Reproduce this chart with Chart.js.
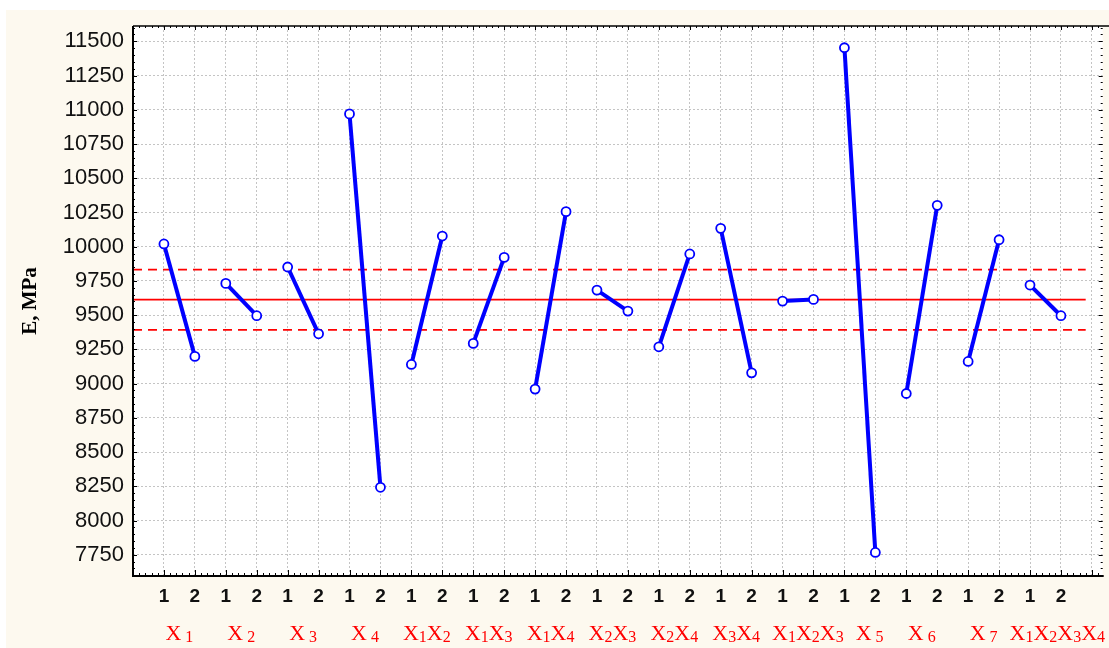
<!DOCTYPE html>
<html>
<head>
<meta charset="utf-8">
<script src="https://cdn.jsdelivr.net/npm/chart.js@4.4.1/dist/chart.umd.min.js"></script>
<style>
html,body{margin:0;padding:0;background:#fff;}
#wrap{width:1109px;height:648px;position:relative;}
</style>
</head>
<body>
<div id="wrap"><canvas id="effectsChart"></canvas></div>
<script>
// factor groups and the two levels of each
const groups = ['X1','X2','X3','X4','X1X2','X1X3','X1X4','X2X3','X2X4','X3X4','X1X2X3','X5','X6','X7','X1X2X3X4'];
const levels = ['1','2'];
// mean E, MPa at level 1 and level 2
const level1 = [10020, 9732, 9852, 10970, 9140, 9294, 8960, 9683, 9269, 10134, 9603, 11453, 8928, 9162, 9720];
const level2 = [9199, 9496, 9364, 8243, 10078, 9922, 10256, 9530, 9947, 9079, 9615, 7767, 10302, 10051, 9496];
// overall mean and confidence band
const meanE = 9613;
const upperE = 9832;
const lowerE = 9393;
const yTicks = [7750,8000,8250,8500,8750,9000,9250,9500,9750,10000,10250,10500,10750,11000,11250,11500];

const BLUE = '#0000ff', RED = '#ff0000', CREAM = '#fdf9ef';
const nPos = groups.length * levels.length;

const lineSets = groups.map((g, i) => ({
  label: g,
  data: [{x: 2*i, y: level1[i]}, {x: 2*i + 1, y: level2[i]}],
  borderColor: BLUE,
  borderWidth: 4,
  pointRadius: 4.5,
  pointBorderWidth: 1.8,
  pointBackgroundColor: '#fff',
  pointBorderColor: BLUE
}));

function hline(v, dash){
  return {
    label: '',
    data: [{x: -1, y: v}, {x: nPos - 0.2, y: v}],
    borderColor: RED, borderWidth: 1.8, borderDash: dash,
    pointRadius: 0
  };
}

// draws "X" with subscript digits; returns right end
function drawGroupLabel(ctx, name, cx, baseY, minLeft){
  const parts = name.match(/X\d/g);
  const big = '22px "Liberation Serif", "Times New Roman", serif';
  const small = '16px "Liberation Serif", "Times New Roman", serif';
  const gap = parts.length === 1 ? 4 : 0;
  ctx.font = big; const wX = ctx.measureText('X').width;
  ctx.font = small; const wD = ctx.measureText('0').width;
  const total = parts.length * (wX + gap + wD);
  let x = Math.max(cx - total / 2, minLeft);
  ctx.fillStyle = RED;
  ctx.textBaseline = 'alphabetic';
  ctx.textAlign = 'left';
  parts.forEach(p => {
    ctx.font = big; ctx.fillText('X', x, baseY); x += wX + gap;
    ctx.font = small; ctx.fillText(p[1], x, baseY + 2); x += wD;
  });
  return x;
}

const framePlugin = {
  id: 'frame',
  beforeDraw(chart){
    const {ctx, chartArea: a} = chart;
    ctx.save();
    ctx.fillStyle = '#fff';
    ctx.fillRect(0, 0, chart.width, chart.height);
    ctx.fillStyle = CREAM;
    ctx.fillRect(6, 10, chart.width - 6, chart.height - 10);
    ctx.fillStyle = '#fff';
    ctx.fillRect(a.left, a.top, a.right - a.left, a.bottom - a.top);
    ctx.restore();
  },
  afterDraw(chart){
    const {ctx, chartArea: a, scales: {x, y}} = chart;
    ctx.save();
    ctx.strokeStyle = '#000';
    ctx.lineWidth = 1;
    const seg = (x1, y1, x2, y2) => { ctx.beginPath(); ctx.moveTo(x1, y1); ctx.lineTo(x2, y2); ctx.stroke(); };
    // inward ticks, y: major every 250, minor every 50
    for (let v = Math.ceil(y.min / 50) * 50; v <= y.max; v += 50) {
      const p = Math.round(y.getPixelForValue(v)) + 0.5;
      const major = v % 250 === 0;
      seg(a.left, p, a.left + (major ? 4 : 2), p);
      seg(a.right, p, a.right - (major ? 4 : 2), p);
    }
    // x: major at each level, minor every fifth
    for (let k = Math.ceil(x.min * 5); k <= x.max * 5; k++) {
      const p = Math.round(x.getPixelForValue(k / 5)) + 0.5;
      const major = k % 5 === 0;
      seg(p, a.bottom, p, a.bottom - (major ? 6 : 3));
      seg(p, a.top, p, a.top + (major ? 4 : 2));
    }
    // frame
    ctx.lineWidth = 2;
    seg(a.left, a.top, a.left, a.bottom + 1);
    seg(a.left - 1, a.bottom, a.right + 1, a.bottom);
    ctx.lineWidth = 1.5;
    seg(a.left, a.top, chart.width, a.top);
    // factor names under the levels
    let end = 0;
    groups.forEach((g, i) => { end = drawGroupLabel(ctx, g, x.getPixelForValue(2*i + 0.5), 640, end + 12); });
    ctx.restore();
  }
};

new Chart(document.getElementById('effectsChart'), {
  type: 'line',
  data: {
    datasets: [...lineSets, hline(meanE, []), hline(upperE, [9, 6]), hline(lowerE, [9, 6])]
  },
  options: {
    responsive: true, maintainAspectRatio: false,
    animation: false,
    layout: { padding: { left: 6, top: 26, right: 1, bottom: 0 } },
    plugins: { legend: { display: false }, tooltip: { enabled: false } },
    scales: {
      x: {
        type: 'linear', min: -1, max: 30.35,
        afterBuildTicks: s => { const t = []; for (let i = -1; i <= nPos; i++) t.push({value: i}); s.ticks = t; },
        afterFit: s => { s.height = 72; },
        ticks: {
          autoSkip: false, maxRotation: 0, padding: 9, color: '#111',
          font: { family: '"Liberation Sans", Arial, sans-serif', size: 19, weight: 'bold' },
          callback: v => (v >= 0 && v < nPos) ? levels[v % 2] : ''
        },
        grid: { color: '#c4c4c4', lineWidth: 1, drawTicks: false },
        border: { display: false, dash: [2, 2] }
      },
      y: {
        type: 'linear', min: 7595, max: 11612,
        afterBuildTicks: s => { s.ticks = yTicks.map(v => ({value: v})); },
        afterFit: s => { s.width = 127; },
        ticks: {
          padding: 9, color: '#111',
          font: { family: '"Liberation Sans", Arial, sans-serif', size: 22 },
          callback: v => String(v)
        },
        grid: { color: '#c4c4c4', lineWidth: 1, drawTicks: false },
        border: { display: false, dash: [2, 2] },
        title: {
          display: true, text: 'E, MPa', color: '#000',
          font: { family: '"Liberation Serif", "Times New Roman", serif', size: 21, weight: 'bold' },
          padding: { top: 12, bottom: 0 }
        }
      }
    }
  },
  plugins: [framePlugin]
});
</script>
</body>
</html>
